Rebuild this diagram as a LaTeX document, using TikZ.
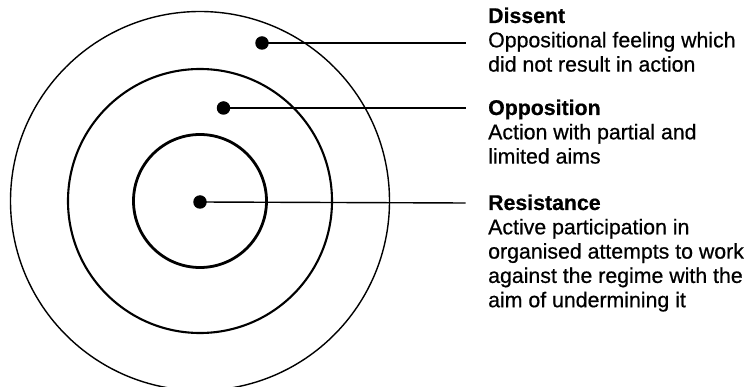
\documentclass[tikz,border=0pt]{standalone}
\usepackage{fontspec}
\setmainfont{Liberation Sans}[UprightFeatures={FakeBold=0.6},BoldFeatures={FakeBold=0.6}]
\begin{document}
\begin{tikzpicture}[x=1pt,y=-1pt,
  dotmark/.style={circle,fill=black,inner sep=0pt,minimum size=13.5pt},
  leader/.style={line width=1.4pt},
  ringA/.style={line width=1.4pt},
  ringB/.style={line width=2.1pt},
  ringC/.style={line width=2.8pt},
  label/.style={anchor=base west,inner sep=0pt,font=\fontsize{21.3}{24.3}\selectfont}]
\useasboundingbox (0,0) rectangle (756,387);
\clip (0,0) rectangle (756,387);
\coordinate (c) at (200,201);
\draw[ringA] (c) circle (189.5);
\draw[ringB] (c) circle (132);
\draw[ringC] (c) circle (66.5);
\node[dotmark] (d1) at (262,43) {};
\node[dotmark] (d2) at (223.5,108) {};
\node[dotmark] (d3) at (200,202) {};
\coordinate (e1) at (465.5,43);
\coordinate (e2) at (465.5,108);
\coordinate (e3) at (465.5,203);
\draw[leader] (d1.center) -- (e1);
\draw[leader] (d2.center) -- (e2);
\draw[leader] (d3.center) -- (e3);
\node[label] (t1) at (488,23) {\begin{tabular}[t]{@{}l@{}}\textbf{Dissent}\\Oppositional feeling which\\did not result in action\end{tabular}};
\node[label] (t2) at (488,115) {\begin{tabular}[t]{@{}l@{}}\textbf{Opposition}\\Action with partial and\\limited aims\end{tabular}};
\node[label] (t3) at (488,210) {\begin{tabular}[t]{@{}l@{}}\textbf{Resistance}\\Active participation in\\organised attempts to work\\against the regime with the\\aim of undermining it\end{tabular}};
\end{tikzpicture}
\end{document}
